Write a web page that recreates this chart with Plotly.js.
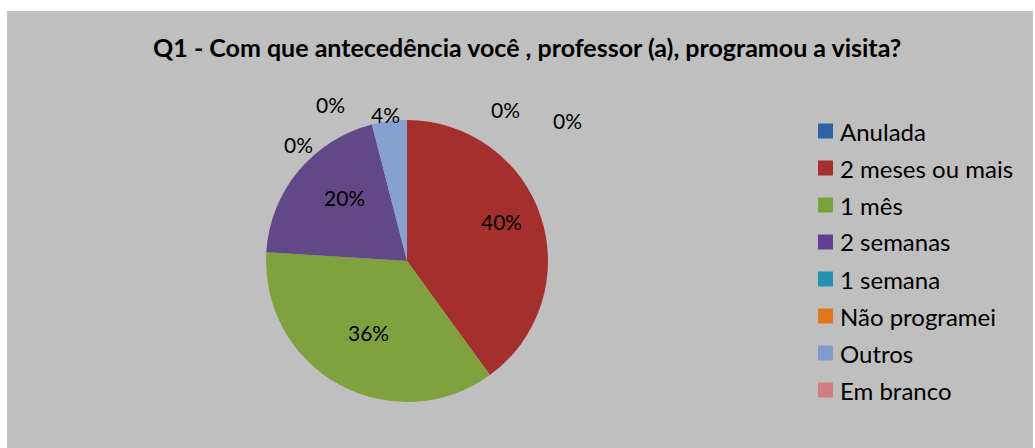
<!DOCTYPE html>
<html>
<head>
<meta charset="utf-8">
<script src="https://cdn.plot.ly/plotly-3.0.1.min.js"></script>
<style>
  html, body { margin: 0; padding: 0; background: #ffffff; }
  #chart { position: absolute; left: 7px; top: 11px; width: 1026px; height: 437px; }
</style>
</head>
<body>
<div id="chart"></div>
<script>
// Answer categories and their share (%)
const categories = ['Anulada', '2 meses ou mais', '1 mês', '2 semanas', '1 semana', 'Não programei', 'Outros', 'Em branco'];
const shares = [0, 40, 36, 20, 0, 0, 4, 0];
const sliceColors = ['#3c6aa6', '#a52f2c', '#7fa23f', '#614887', '#2f93ad', '#e07a25', '#86a0cf', '#d08182'];
const legendColors = ['#2f62a3', '#a5302e', '#7aa23c', '#633f91', '#2592ad', '#e2761f', '#7f9bcc', '#cf7f80'];

// where Excel dropped each data label, in pie radius units from the centre
const labelSpots = [[0.70, -1.18], [0.67, -0.28], [-0.43, 0.61], [-0.60, -0.45],
                    [-0.89, -0.93], [-0.66, -1.21], [-0.15, -1.14], [1.14, -1.10]];

const W = 1026, H = 437;
const cx = 400, cy = 250, R = 141;   // pie centre / radius in px

const font = 'Lato, "Open Sans", sans-serif';

const pie = {
    type: 'pie',
    labels: categories,
    values: shares,
    sort: false,
    direction: 'clockwise',
    rotation: 0,
    textinfo: 'none',
    hoverinfo: 'label+percent',
    showlegend: false,
    marker: { colors: sliceColors, line: { width: 0 } },
    domain: { x: [(cx - R) / W, (cx + R) / W], y: [1 - (cy + R) / H, 1 - (cy - R) / H] }
};

const total = shares.reduce((a, b) => a + b, 0);

// data labels
const annotations = categories.map((c, i) => ({
    xref: 'paper', yref: 'paper',
    x: (cx + labelSpots[i][0] * R) / W,
    y: 1 - (cy + labelSpots[i][1] * R) / H,
    text: Math.round(shares[i] / total * 100) + '%',
    showarrow: false,
    font: { family: font, size: 21, color: '#000000' }
}));

// legend, drawn by hand so the row spacing matches
const legX = 811, legY0 = 120, legStep = 37, box = 15;
const shapes = [];
categories.forEach((c, i) => {
    const yc = legY0 + i * legStep;
    shapes.push({
        type: 'rect', xref: 'paper', yref: 'paper',
        x0: legX / W, x1: (legX + box) / W,
        y0: 1 - (yc + box / 2) / H, y1: 1 - (yc - box / 2) / H,
        fillcolor: legendColors[i], line: { width: 0 }
    });
    annotations.push({
        xref: 'paper', yref: 'paper',
        x: (legX + box + 5) / W, y: 1 - yc / H,
        xanchor: 'left', yanchor: 'middle',
        text: c, showarrow: false,
        font: { family: font, size: 24, color: '#000000' }
    });
});

const layout = {
    width: W, height: H,
    paper_bgcolor: '#bfbfbf',
    margin: { l: 0, r: 0, t: 0, b: 0 },
    title: {
        text: '<b>Q1 - Com que antecedência você , professor (a), programou a visita?</b>',
        x: 0.507, xref: 'paper', xanchor: 'center',
        y: 1 - 37 / H, yref: 'container', yanchor: 'middle',
        font: { family: font, size: 25, color: '#000000' }
    },
    showlegend: false,
    annotations: annotations,
    shapes: shapes
};

Plotly.newPlot('chart', [pie], layout, { displayModeBar: false, staticPlot: true });
</script>
</body>
</html>
